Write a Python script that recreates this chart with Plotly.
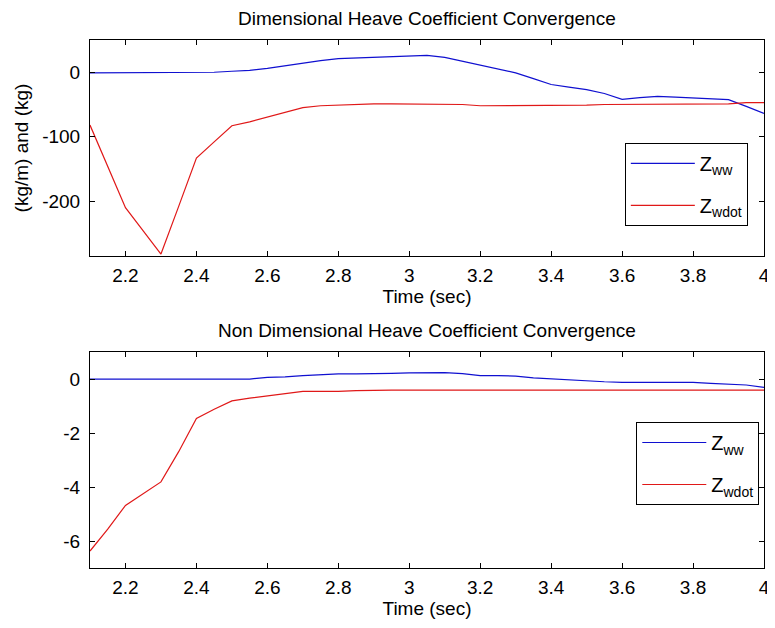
import plotly.graph_objects as go

# ---- data ----
time = [2.10, 2.15, 2.20, 2.25, 2.30, 2.35, 2.40, 2.45, 2.50, 2.55,
        2.60, 2.65, 2.70, 2.75, 2.80, 2.85, 2.90, 2.95, 3.00, 3.05,
        3.10, 3.15, 3.20, 3.25, 3.30, 3.35, 3.40, 3.45, 3.50, 3.55,
        3.60, 3.65, 3.70, 3.75, 3.80, 3.85, 3.90, 3.95, 4.00]

zww_dim = [-1, -1, -1, -1, -1, -1, -1, 0, 1.5, 3,
           6, 10, 15, 18, 21, 22, 24, 25, 26, 26,
           23, 17, 11, 4, -1, -10, -19, -23, -27, -33,
           -42, -39.5, -37.5, -38.5, -40, -41.5, -42.5, -53, -64]

zwdot_dim = [-82, -146, -210, -246, -282, -208, -133, -108, -83, -77,
             -70, -63, -55, -52, -51, -49, -49, -49, -49, -49,
             -49, -50, -52, -52, -52, -52, -52, -52, -51, -50,
             -50, -50, -50, -50, -50, -50, -49, -47, -47]

zww_nd = [0, 0, 0, 0, 0, 0, 0, 0, 0, 0,
          0.06, 0.08, 0.13, 0.17, 0.19, 0.19, 0.19, 0.21, 0.23, 0.24,
          0.24, 0.20, 0.13, 0.13, 0.11, 0.04, 0.0, -0.04, -0.08, -0.10,
          -0.12, -0.12, -0.12, -0.12, -0.12, -0.16, -0.19, -0.22, -0.31]

zwdot_nd = [-6.37, -5.56, -4.68, -4.25, -3.81, -2.69, -1.46, -1.12, -0.81, -0.71,
            -0.63, -0.55, -0.46, -0.46, -0.46, -0.43, -0.41, -0.41, -0.41, -0.41,
            -0.41, -0.41, -0.41, -0.41, -0.41, -0.41, -0.41, -0.41, -0.41, -0.41,
            -0.41, -0.41, -0.41, -0.41, -0.41, -0.41, -0.41, -0.41, -0.41]

x_tickvals = [2.2, 2.4, 2.6, 2.8, 3.0, 3.2, 3.4, 3.6, 3.8, 4.0]
x_ticktext = ["2.2", "2.4", "2.6", "2.8", "3", "3.2", "3.4", "3.6", "3.8", "4"]
y1_tickvals = [0, -100, -200]
y1_ticktext = ["0", "-100", "-200"]
y2_tickvals = [0, -2, -4, -6]
y2_ticktext = ["0", "-2", "-4", "-6"]

title_top = "Dimensional Heave Coefficient Convergence"
title_bot = "Non Dimensional Heave Coefficient Convergence"
x_label = "Time (sec)"
y_label = "(kg/m) and (kg)"
name_ww = "Z<sub>ww</sub>"
name_wdot = "Z<sub>wdot</sub>"

BLUE = "#1010d0"
RED = "#e01818"
FONT = "Liberation Sans, Arial, sans-serif"
FS = 19

fig = go.Figure()
fig.add_trace(go.Scatter(x=time, y=zww_dim, mode="lines", name=name_ww, legendgroup="a",
                         line=dict(color=BLUE, width=1.2), xaxis="x", yaxis="y", legend="legend"))
fig.add_trace(go.Scatter(x=time, y=zwdot_dim, mode="lines", name=name_wdot, legendgroup="b",
                         line=dict(color=RED, width=1.2), xaxis="x", yaxis="y", legend="legend"))
fig.add_trace(go.Scatter(x=time, y=zww_nd, mode="lines", name=name_ww, legendgroup="c",
                         line=dict(color=BLUE, width=1.2), xaxis="x2", yaxis="y2", legend="legend2"))
fig.add_trace(go.Scatter(x=time, y=zwdot_nd, mode="lines", name=name_wdot, legendgroup="d",
                         line=dict(color=RED, width=1.2), xaxis="x2", yaxis="y2", legend="legend2"))

axis_common = dict(showline=True, linecolor="black", linewidth=1, mirror="ticks",
                   ticks="inside", ticklen=5, tickcolor="black", showgrid=False,
                   zeroline=False, tickfont=dict(size=FS, color="black", family=FONT))

legend_common = dict(xanchor="right", yanchor="top", bgcolor="white",
                     bordercolor="black", borderwidth=1, itemwidth=64,
                     tracegroupgap=13, font=dict(size=20, family=FONT))

fig.update_layout(
    width=767, height=620,
    margin=dict(l=82, r=5, t=32, b=60),
    paper_bgcolor="white", plot_bgcolor="white",
    font=dict(family=FONT, size=FS, color="black"),
    xaxis=dict(domain=[0, 1], anchor="y", range=[2.1, 4.0],
               tickvals=x_tickvals, ticktext=x_ticktext, ticklabelstandoff=2,
               ticklabeloverflow="allow",
               title=dict(text=x_label, standoff=2, font=dict(size=FS)), **axis_common),
    yaxis=dict(domain=[0.5909, 1], anchor="x", range=[-285, 50],
               tickvals=y1_tickvals, ticktext=y1_ticktext, ticklabelstandoff=5,
               title=dict(text=y_label, standoff=8, font=dict(size=FS)), **axis_common),
    xaxis2=dict(domain=[0, 1], anchor="y2", range=[2.1, 4.0],
                tickvals=x_tickvals, ticktext=x_ticktext, ticklabelstandoff=2,
                ticklabeloverflow="allow",
                title=dict(text=x_label, standoff=2, font=dict(size=FS)), **axis_common),
    yaxis2=dict(domain=[0, 0.409], anchor="x2", range=[-7, 1],
                tickvals=y2_tickvals, ticktext=y2_ticktext, ticklabelstandoff=5,
                **axis_common),
    legend=dict(x=0.976, y=0.805, **legend_common),
    legend2=dict(x=0.993, y=0.2765, **legend_common),
    annotations=[
        dict(text=title_top, xref="paper", yref="paper", x=0.5, y=1.0,
             xanchor="center", yanchor="bottom", yshift=9, showarrow=False,
             font=dict(size=FS)),
        dict(text=title_bot, xref="paper", yref="paper", x=0.5, y=0.409,
             xanchor="center", yanchor="bottom", yshift=9, showarrow=False,
             font=dict(size=FS)),
    ],
)

fig.write_html("out.html")
